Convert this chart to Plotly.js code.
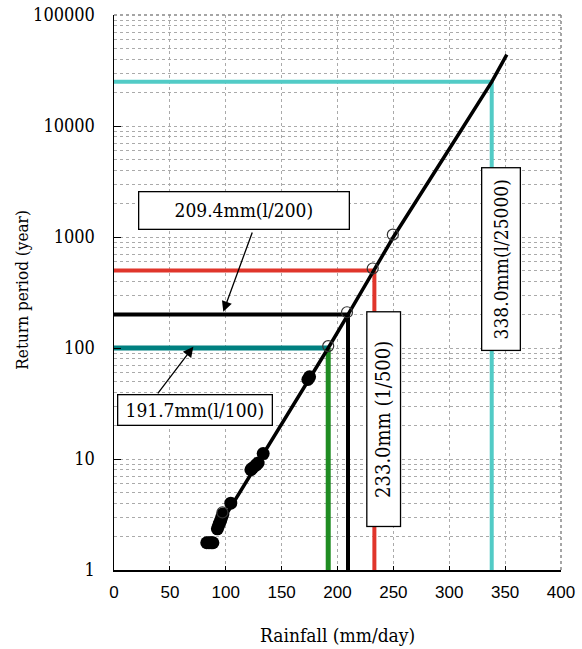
<!DOCTYPE html>
<html>
<head>
<meta charset="utf-8">
<script src="https://cdn.plot.ly/plotly-3.0.1.min.js"></script>
<style>html,body{margin:0;padding:0;background:#fff;}#chart{width:582px;height:649px;}</style>
</head>
<body>
<div id="chart"></div>
<script>
// Fitted line (rainfall mm/day, return period years)
const fitX = [92, 150, 191.7, 209.4, 233.0, 250, 300, 338.0, 351.5];
const fitT = [2.3, 20.5, 100, 200, 500, 1000, 6200, 25000, 44000];

// Observed (filled) points
const obsX = [83, 85, 87, 88.5, 92.5, 93.5, 94.5, 95.5, 96.5, 97.5, 104.5, 122.5, 124, 127, 129, 133.5, 173.5, 175];
const obsT = [1.76, 1.76, 1.76, 1.76, 2.35, 2.5, 2.65, 2.8, 3.0, 3.2, 4.0, 8.0, 8.3, 8.8, 9.2, 11.2, 52, 55];

// Open-circle points
const openX = [97, 191.7, 208.5, 231.5, 249.5];
const openT = [3.3, 104, 210, 520, 1050];

// Reference values
const refX = [191.7, 209.4, 233.0, 338.0];
const refT = [100, 200, 500, 25000];
const refColH = ['#008080', '#000000', '#E0352B', '#52CBC6'];
const refColV = ['#1F8C22', '#000000', '#E0352B', '#52CBC6'];
const refWidth = [5, 4, 4, 4];

// Tick labels
const yTickVals = [1, 10, 100, 1000, 10000, 100000];
const yTickText = ['1', '10', '100', '1000', '10000', '100000'];

// Label texts
const labelTexts = ['209.4mm(l/200)', '191.7mm(l/100)', '233.0mm (1/500)', '338.0mm(l/25000)'];

const traces = [];
for (let i = 0; i < refX.length; i++) {
  traces.push({x: [0, refX[i]], y: [refT[i], refT[i]], mode: 'lines', line: {color: refColH[i], width: refWidth[i]}, hoverinfo: 'skip', showlegend: false});
  traces.push({x: [refX[i], refX[i]], y: [1, refT[i]], mode: 'lines', line: {color: refColV[i], width: refWidth[i]}, hoverinfo: 'skip', showlegend: false});
}
traces.push({x: fitX, y: fitT, mode: 'lines', line: {color: '#000', width: 3.5}, showlegend: false});
traces.push({x: obsX, y: obsT, mode: 'markers', marker: {symbol: 'circle', size: 13, color: '#000'}, showlegend: false});
traces.push({x: openX, y: openT, mode: 'markers', marker: {symbol: 'circle-open', size: 11, color: '#333', line: {width: 1.2, color: '#333'}}, showlegend: false});

const serif = 'DejaVu Serif Condensed';
const sans = 'Liberation Sans';

const annotations = [
  {x: 116.1, y: 3.236, xref: 'x', yref: 'y', text: labelTexts[0], showarrow: false, font: {family: serif, size: 19, color: '#000'}, bgcolor: '#fff', bordercolor: '#000', borderwidth: 1.3, width: 207, height: 34},
  {x: 72.3, y: 1.437, xref: 'x', yref: 'y', text: labelTexts[1], showarrow: false, font: {family: serif, size: 19, color: '#000'}, bgcolor: '#fff', bordercolor: '#000', borderwidth: 1.3, width: 151, height: 27},
  {x: 241.3, y: 1.356, xref: 'x', yref: 'y', text: labelTexts[2], showarrow: false, textangle: -90, font: {family: serif, size: 20, color: '#000'}, bgcolor: '#fff', bordercolor: '#000', borderwidth: 1.3, width: 211, height: 30},
  {x: 345.9, y: 2.797, xref: 'x', yref: 'y', text: labelTexts[3], showarrow: false, textangle: -90, font: {family: serif, size: 19, color: '#000'}, bgcolor: '#fff', bordercolor: '#000', borderwidth: 1.3, width: 179, height: 35},
  {x: 97.8, y: 2.327, ax: 124.2, ay: 3.054, xref: 'x', yref: 'y', axref: 'x', ayref: 'y', text: '', showarrow: true, arrowhead: 2, arrowsize: 1.6, arrowwidth: 1.3, arrowcolor: '#000'},
  {x: 71.0, y: 2.012, ax: 38.2, ay: 1.577, xref: 'x', yref: 'y', axref: 'x', ayref: 'y', text: '', showarrow: true, arrowhead: 2, arrowsize: 1.6, arrowwidth: 1.3, arrowcolor: '#000'},
  {x: -0.206, y: 0.505, xref: 'paper', yref: 'paper', xanchor: 'center', yanchor: 'middle', text: 'Return period (year)', textangle: -90, showarrow: false, font: {family: serif, size: 17, color: '#000'}},
  {x: 0.5, y: 0, xref: 'paper', yref: 'paper', xanchor: 'center', yanchor: 'middle', yshift: -65, text: 'Rainfall (mm/day)', showarrow: false, font: {family: serif, size: 19, color: '#000'}}
];

const layout = {
  width: 582, height: 649,
  margin: {l: 114, r: 21, t: 15, b: 79},
  paper_bgcolor: '#fff', plot_bgcolor: '#fff',
  showlegend: false,
  xaxis: {
    range: [0, 400], dtick: 50, tick0: 0,
    showgrid: true, gridcolor: '#aaa', griddash: 'dot', gridwidth: 1,
    showline: true, linecolor: '#000', linewidth: 1.5,
    ticks: 'inside', ticklen: 4, tickcolor: '#000',
    zeroline: false,
    tickfont: {family: sans, size: 17, color: '#000'},
    ticklabelstandoff: 6
  },
  yaxis: {
    type: 'log', range: [0, 5],
    tickvals: yTickVals, ticktext: yTickText,
    showgrid: true, gridcolor: '#aaa', griddash: 'dot', gridwidth: 1,
    minor: {showgrid: true, dtick: 'D1', gridcolor: '#aaa', griddash: 'dot', gridwidth: 1, ticks: ''},
    showline: true, linecolor: '#000', linewidth: 1.5,
    ticks: 'inside', ticklen: 7, tickcolor: '#000',
    zeroline: false,
    tickfont: {family: serif, size: 18, color: '#000'},
    ticklabelstandoff: 14
  },
  shapes: [
    {type: 'line', xref: 'paper', yref: 'paper', x0: 0, x1: 1, y0: 1, y1: 1, line: {color: '#888', width: 1.5, dash: 'dot'}},
    {type: 'line', xref: 'paper', yref: 'paper', x0: 1, x1: 1, y0: 0, y1: 1, line: {color: '#888', width: 1.5, dash: 'dot'}}
  ],
  annotations: annotations
};

Plotly.newPlot('chart', traces, layout, {staticPlot: true, displayModeBar: false});
</script>
</body>
</html>
